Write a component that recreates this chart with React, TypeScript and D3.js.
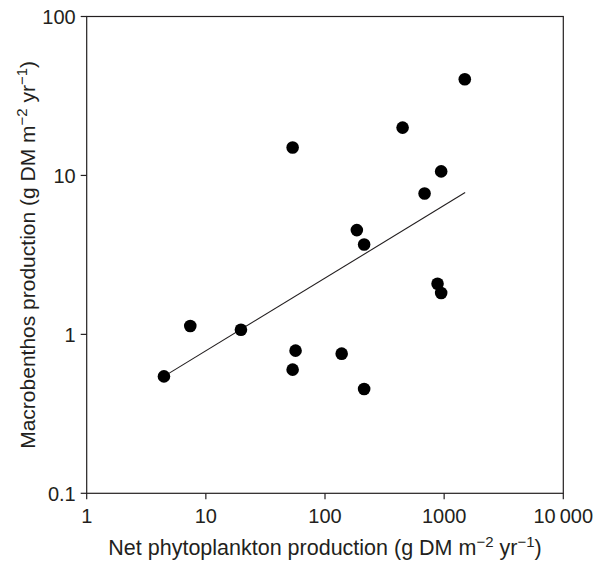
import React from "react";
import * as d3 from "d3";

const xTicks = [1, 10, 100, 1000, 10000];
const xTickLabels = ["1", "10", "100", "1000", "10\u2009000"];
const yTicks = [0.1, 1, 10, 100];
const yTickLabels = ["0.1", "1", "10", "100"];

const phyto = [4.45, 7.4, 19.7, 53.5, 56.6, 138, 213, 880, 944, 53.5, 1490, 448, 944, 685, 185, 213];
const benthos = [0.544, 1.13, 1.07, 0.6, 0.79, 0.756, 0.453, 2.08, 1.82, 15.0, 40.3, 20.0, 10.6, 7.7, 4.53, 3.68];

const fitX = [4.45, 1500];
const fitY = [0.544, 7.8];

const W = 604;
const H = 562;
const M = { left: 86.7, top: 16.5, right: 563.3, bottom: 493.3 };
const FONT = "'Liberation Sans', Arial, Helvetica, sans-serif";
const INK = "#231f20";

export default function App() {
  const x = d3.scaleLog().domain([1, 10000]).range([M.left, M.right]);
  const y = d3.scaleLog().domain([0.1, 100]).range([M.bottom, M.top]);
  const line = d3
    .line<number>()
    .x((_, i) => x(fitX[i]))
    .y((d) => y(d));
  const tick = 6;
  return (
    <svg
      width={W}
      height={H}
      style={{ position: "absolute", left: 0, top: 0, background: "#fff" }}
      fontFamily={FONT}
    >
      <rect x={M.left} y={M.top} width={M.right - M.left} height={M.bottom - M.top} fill="none" stroke={INK} strokeWidth={1.2} />
      {xTicks.map((t, i) => (
        <g key={"x" + i}>
          <line x1={x(t)} x2={x(t)} y1={M.bottom} y2={M.bottom + tick} stroke={INK} strokeWidth={1.2} />
          <text x={x(t)} y={M.bottom + 30} textAnchor="middle" fontSize={20} fill={INK}>
            {xTickLabels[i]}
          </text>
        </g>
      ))}
      {yTicks.map((t, i) => (
        <g key={"y" + i}>
          <line x1={M.left - tick} x2={M.left} y1={y(t)} y2={y(t)} stroke={INK} strokeWidth={1.2} />
          <text x={M.left - 11} y={y(t)} dy="0.36em" textAnchor="end" fontSize={20} fill={INK}>
            {yTickLabels[i]}
          </text>
        </g>
      ))}
      <path d={line(fitY) || ""} fill="none" stroke={INK} strokeWidth={1.1} />
      {phyto.map((v, i) => (
        <circle key={"p" + i} cx={x(v)} cy={y(benthos[i])} r={6.3} fill="#000" />
      ))}
      <text x={(M.left + M.right) / 2} y={555} textAnchor="middle" fontSize={21.5} fill={INK}>
        Net phytoplankton production (g DM m
        <tspan fontSize={15} dy={-8}>{"\u22122"}</tspan>
        <tspan dy={8}> yr</tspan>
        <tspan fontSize={15} dy={-8}>{"\u22121"}</tspan>
        <tspan dy={8}>)</tspan>
      </text>
      <text
        transform={`translate(35, ${(M.top + M.bottom) / 2}) rotate(-90)`}
        textAnchor="middle"
        fontSize={21}
        fill={INK}
      >
        Macrobenthos production (g DM m
        <tspan fontSize={15} dy={-8}>{"\u22122"}</tspan>
        <tspan dy={8}> yr</tspan>
        <tspan fontSize={15} dy={-8}>{"\u22121"}</tspan>
        <tspan dy={8}>)</tspan>
      </text>
    </svg>
  );
}
